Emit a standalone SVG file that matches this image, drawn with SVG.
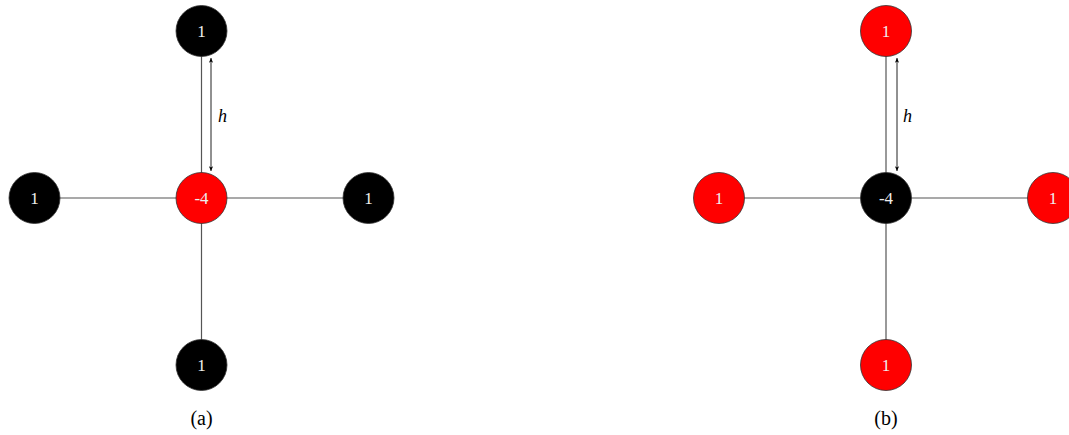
<svg xmlns="http://www.w3.org/2000/svg" width="1069" height="435" viewBox="0 0 1069 435">
<defs>
<marker id="ah" viewBox="0 0 10 10" refX="9" refY="5" markerWidth="6" markerHeight="6" orient="auto-start-reverse" markerUnits="userSpaceOnUse">
<path d="M1,1.5 L9,5 L1,8.5 L3,5 Z" fill="#000"/>
</marker>
</defs>
<style>
.edge{stroke:#555;stroke-width:1.2;fill:none}
.dim{stroke:#222;stroke-width:1;fill:none}
.blk{fill:#000;stroke:#333;stroke-width:0.8}
.red{fill:#f00;stroke:#333;stroke-width:0.8}
text{font-family:"Liberation Serif",Times,serif}
.nt{font-size:17px;fill:#eee;text-anchor:middle}
.cap{font-size:20px;fill:#000;text-anchor:middle}
.h{font-style:italic;font-size:18px;fill:#000}
</style>
<rect width="1069" height="435" fill="#fff"/>
<g id="connectors">
<line class="edge" x1="201.5" y1="31" x2="201.5" y2="365"/>
<line class="edge" x1="34.5" y1="198" x2="368.5" y2="198"/>
<line class="edge" x1="886" y1="31" x2="886" y2="365"/>
<line class="edge" x1="719" y1="198" x2="1053" y2="198"/>
<line class="dim" x1="211" y1="58" x2="211" y2="171" marker-start="url(#ah)" marker-end="url(#ah)"/>
<line class="dim" x1="897" y1="58" x2="897" y2="171" marker-start="url(#ah)" marker-end="url(#ah)"/>
</g>
<text class="h" x="218" y="122" font-family="Liberation Serif">h</text>
<text class="h" x="903" y="122" font-family="Liberation Serif">h</text>
<g id="a-top"><circle class="blk" cx="201.5" cy="31" r="25.5"/><text class="nt" x="201.5" y="37">1</text></g>
<g id="a-left"><circle class="blk" cx="34.5" cy="198" r="25.5"/><text class="nt" x="34.5" y="204">1</text></g>
<g id="a-center"><circle class="red" cx="201.5" cy="198" r="25.5"/><text class="nt" x="201.5" y="204">-4</text></g>
<g id="a-right"><circle class="blk" cx="368.5" cy="198" r="25.5"/><text class="nt" x="368.5" y="204">1</text></g>
<g id="a-bottom"><circle class="blk" cx="201.5" cy="365" r="25.5"/><text class="nt" x="201.5" y="371">1</text></g>
<g id="b-top"><circle class="red" cx="886" cy="31" r="25.5"/><text class="nt" x="886" y="37">1</text></g>
<g id="b-left"><circle class="red" cx="719" cy="198" r="25.5"/><text class="nt" x="719" y="204">1</text></g>
<g id="b-center"><circle class="blk" cx="886" cy="198" r="25.5"/><text class="nt" x="886" y="204">-4</text></g>
<g id="b-right"><circle class="red" cx="1053" cy="198" r="25.5"/><text class="nt" x="1053" y="204">1</text></g>
<g id="b-bottom"><circle class="red" cx="886" cy="365" r="25.5"/><text class="nt" x="886" y="371">1</text></g>
<text class="cap" x="201.5" y="425">(a)</text>
<text class="cap" x="886" y="425">(b)</text>
</svg>
